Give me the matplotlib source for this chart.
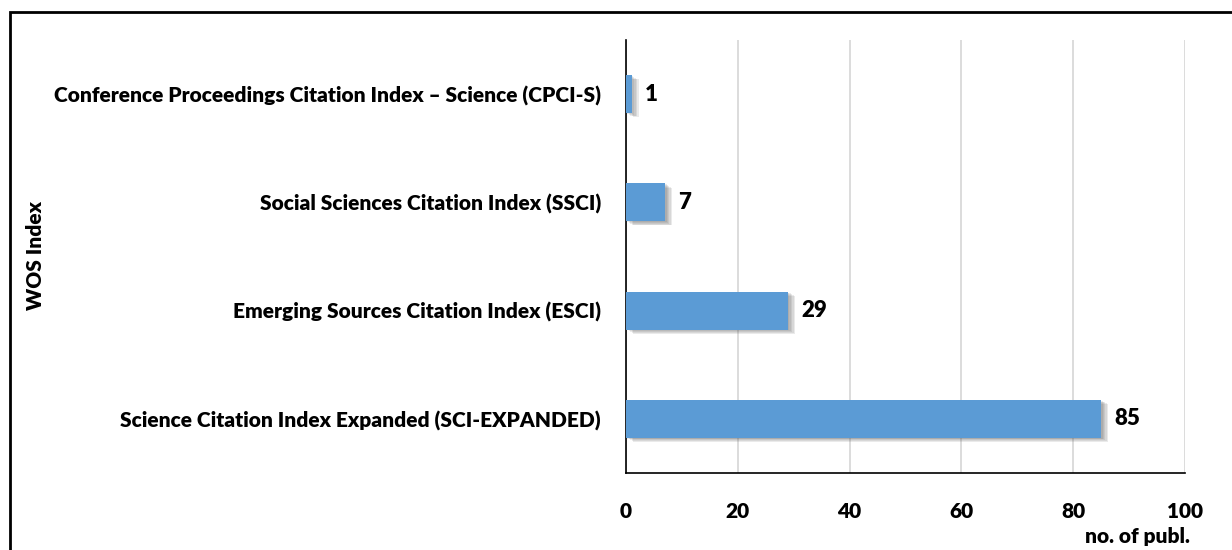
import numpy as np
import matplotlib.pyplot as plt
import matplotlib.patheffects as pe
from matplotlib.patches import Rectangle

categories = ['Science Citation Index Expanded (SCI-EXPANDED)',
              'Emerging Sources Citation Index (ESCI)',
              'Social Sciences Citation Index (SSCI)',
              'Conference Proceedings Citation Index \u2013 Science (CPCI-S)']
counts = [85, 29, 7, 1]
xticks = [0, 20, 40, 60, 80, 100]

plt.rcParams['font.family'] = ['Lato', 'DejaVu Sans']
W = 'heavy'
FS = 15

fig = plt.figure(figsize=(12.32, 5.5), dpi=100)
ax = fig.add_axes([626/1232, 1 - 473/550, (1185-626)/1232, (473-40)/550])

y = np.arange(len(categories))
bars = ax.barh(y, counts, height=0.35, color='#5B9BD5', zorder=3)
shadow = [pe.SimplePatchShadow(offset=(d, -d * 0.6), shadow_rgbFace='#555555', alpha=0.12)
          for d in (1, 2, 3, 4, 5)]
for b in bars:
    b.set_path_effects(shadow + [pe.Normal()])

for yi, v in zip(y, counts):
    ax.text(v + 2.3, yi, str(v), va='center', ha='left', fontsize=FS + 1, fontweight=W)

ax.set_xlim(0, 100)
ax.set_ylim(-0.5, len(categories) - 0.5)
ax.set_xticks(xticks)
ax.set_xticklabels([str(t) for t in xticks], fontsize=FS, fontweight=W)
ax.set_yticks(y)
ax.set_yticklabels(categories, fontsize=FS, fontweight=W)
ax.tick_params(axis='x', length=0, pad=21)
ax.tick_params(axis='y', length=0, pad=18)

ax.grid(axis='x', color='#D9D9D9', linewidth=1.3, zorder=0)
for s in ['top', 'right']:
    ax.spines[s].set_visible(False)
for s in ['left', 'bottom']:
    ax.spines[s].set_color('black')
    ax.spines[s].set_linewidth(1.2)

fig.text(35/1232, 1 - 256/550, 'WOS Index', rotation=90, va='center', ha='center',
         fontsize=FS, fontweight=W)
fig.text(1190/1232, 1 - 537/550, 'no. of publ.', ha='right', va='center',
         fontsize=FS, fontweight=W)

fig.patches.append(Rectangle((10/1232, -0.1), 1.2, 1 - 12/550 + 0.1, transform=fig.transFigure,
                             fill=False, edgecolor='black', linewidth=2))

fig.savefig('out.png', dpi=100)
